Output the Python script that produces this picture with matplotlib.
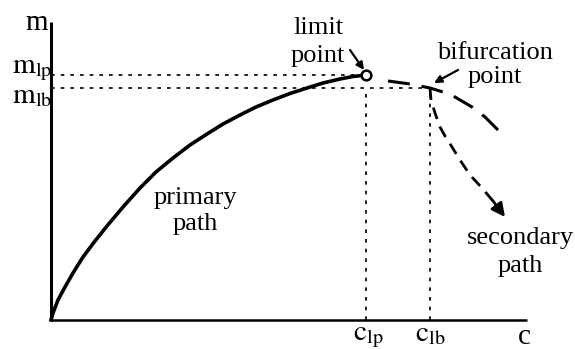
import matplotlib.pyplot as plt

plt.rcParams['font.family'] = ['Liberation Serif', 'DejaVu Serif']
plt.rcParams['mathtext.fontset'] = 'stix'

# primary equilibrium path up to the limit point
c_primary = [0.0, 0.02, 0.07, 0.14, 0.22, 0.32, 0.44, 0.56, 0.72, 0.89, 1.05, 1.22,
             1.39, 1.56, 1.72, 1.89, 2.05, 2.22, 2.39, 2.56, 2.72, 2.89, 3.02, 3.15]
m_primary = [0.0, 0.07, 0.20, 0.33, 0.47, 0.63, 0.79, 0.94, 1.13, 1.32, 1.48, 1.62,
             1.75, 1.86, 1.96, 2.05, 2.13, 2.20, 2.265, 2.32, 2.37, 2.41, 2.435, 2.45]

# unstable continuation past the limit point (visible dashes)
c_post = [3.37, 3.59, 3.79, 3.92, 4.04, 4.21, 4.34, 4.47]
m_post = [2.39, 2.36, 2.32, 2.28, 2.23, 2.13, 2.03, 1.90]

# secondary path branching off at the bifurcation point
c_second = [3.79, 3.80, 3.84, 3.89, 3.94, 4.01, 4.09, 4.19, 4.31, 4.42, 4.54]
m_second = [2.32, 2.20, 2.07, 1.93, 1.84, 1.73, 1.60, 1.45, 1.32, 1.19, 1.03]

c_lp, m_lp = 3.15, 2.45
c_lb, m_lb = 3.79, 2.32
c_max, m_max = 4.76, 2.98

fig = plt.figure(figsize=(5.75, 3.49), dpi=100)
ax = fig.add_axes([0, 0, 1, 1])
ax.set_xlim(-0.51, 5.24)
ax.set_ylim(-0.29, 3.20)
ax.axis('off')

# axes
ax.plot([0, c_max], [0, 0], color='black', lw=1.8, solid_capstyle='butt')
ax.plot([0, 0], [0, m_max], color='black', lw=2.2, solid_capstyle='butt')

# reference lines
ref = dict(color='black', lw=1.2, linestyle=(0, (2.2, 3.6)))
ax.plot([0, c_lp], [m_lp, m_lp], **ref)
ax.plot([0, c_lb], [m_lb, m_lb], **ref)
ax.plot([c_lp, c_lp], [0, m_lb - 0.06], **ref)
ax.plot([c_lb, c_lb], [0, m_lb - 0.06], **ref)

# paths
ax.plot(c_primary, m_primary, color='black', lw=2.6, solid_joinstyle='round')
ax.plot(c_post, m_post, color='black', lw=2.2, linestyle=(0, (7.2, 3.9)))
ax.plot(c_second[:-1], m_second[:-1], color='black', lw=2.0,
        linestyle=(0, (4.3, 2.9)))
ax.annotate('', xy=(c_second[-1], m_second[-1]), xytext=(c_second[-2], m_second[-2]),
            arrowprops=dict(arrowstyle='-|>', color='black', lw=2.0,
                            mutation_scale=20, shrinkA=0, shrinkB=0))

# limit point marker
ax.plot([c_lp], [m_lp], marker='o', markersize=7, markerfacecolor='white',
        markeredgecolor='black', markeredgewidth=1.8, zorder=5)

# callouts
ax.annotate('', xy=(3.13, 2.50), xytext=(2.99, 2.70),
            arrowprops=dict(arrowstyle='-|>', color='black', lw=1.6,
                            mutation_scale=11, shrinkA=0, shrinkB=0))
ax.annotate('', xy=(3.83, 2.37), xytext=(4.07, 2.50),
            arrowprops=dict(arrowstyle='-|>', color='black', lw=1.6,
                            mutation_scale=11, shrinkA=0, shrinkB=0))

fs = 19
ax.text(2.67, 2.78, 'limit\npoint', fontsize=fs, ha='center', va='center', linespacing=1.35)
ax.text(4.44, 2.55, 'bifurcation\npoint', fontsize=fs, ha='center', va='center', linespacing=1.15)
ax.text(1.44, 1.09, 'primary\npath', fontsize=fs, ha='center', va='center', linespacing=1.2)
ax.text(4.69, 0.68, 'secondary\npath', fontsize=fs, ha='center', va='center', linespacing=1.3)

# axis labels
fa = 21
ax.text(-0.14, 2.90, 'm', fontsize=fa, ha='center', va='baseline')
ax.text(-0.39, 2.47, r'$\mathrm{m}_{\mathrm{lp}}$', fontsize=fa, ha='left', va='baseline')
ax.text(-0.39, 2.17, r'$\mathrm{m}_{\mathrm{lb}}$', fontsize=fa, ha='left', va='baseline')
ax.text(c_lp + 0.02, -0.205, r'$\mathrm{c}_{\mathrm{lp}}$', fontsize=fa, ha='center', va='baseline')
ax.text(c_lb, -0.215, r'$\mathrm{c}_{\mathrm{lb}}$', fontsize=fa, ha='center', va='baseline')
ax.text(4.73, -0.235, 'c', fontsize=fa, ha='center', va='baseline')

fig.savefig('out.png', dpi=100)
